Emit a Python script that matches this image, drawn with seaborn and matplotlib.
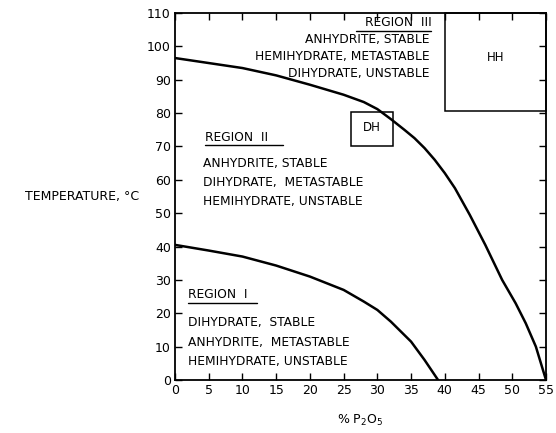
import matplotlib
matplotlib.use("Agg")
import matplotlib.pyplot as plt
import matplotlib.patches as mpatches
import numpy as np
import pandas as pd
import seaborn as sns

# Phase boundary curves of calcium sulfate hydrates in phosphoric acid
upper_p2o5 = [0, 5, 10, 15, 20, 25, 28, 30, 32, 34, 35.5, 37, 38.5, 40, 41.5, 43.7, 46, 48.5, 50.5, 52, 53.5, 55]
upper_temp = [96.5, 95, 93.5, 91.3, 88.5, 85.5, 83.3, 81.2, 78.2, 75, 72.5, 69.5, 66, 62, 57.5, 49.5, 40.5, 30, 23, 17, 10, 0]

lower_p2o5 = [0, 5, 10, 15, 20, 25, 28, 30, 32, 35, 37, 39]
lower_temp = [40.5, 38.8, 37, 34.3, 31, 27, 23.5, 21, 17.5, 11.5, 6, 0]

x_ticks = list(range(0, 56, 5))
y_ticks = list(range(0, 111, 10))

# Boxes: (x0, y0, x1, y1, label)
dh_box = (26.1, 70, 32.3, 80.3, "DH")
hh_box = (40, 80.5, 55, 110, "HH")

region_iii = ["ANHYDRITE, STABLE", "HEMIHYDRATE, METASTABLE", "DIHYDRATE, UNSTABLE"]
region_ii = ["ANHYDRITE, STABLE", "DIHYDRATE,  METASTABLE", "HEMIHYDRATE, UNSTABLE"]
region_i = ["DIHYDRATE,  STABLE", "ANHYDRITE,  METASTABLE", "HEMIHYDRATE, UNSTABLE"]

sns.set_style("ticks")
plt.rcParams["font.family"] = ["DejaVu Sans"]
plt.rcParams["text.color"] = "black"
plt.rcParams["axes.labelcolor"] = "black"

fig = plt.figure(figsize=(5.56, 4.33), dpi=100)
ax = fig.add_axes([0.3147, 0.1224, 0.6673, 0.8476])

upper = pd.DataFrame({"p2o5": upper_p2o5, "temp": upper_temp})
lower = pd.DataFrame({"p2o5": lower_p2o5, "temp": lower_temp})
sns.lineplot(data=upper, x="p2o5", y="temp", color="black", lw=1.8, ax=ax, sort=False)
sns.lineplot(data=lower, x="p2o5", y="temp", color="black", lw=1.8, ax=ax, sort=False)

ax.set_xlim(0, 55)
ax.set_ylim(0, 110)
ax.set_xticks(x_ticks)
ax.set_yticks(y_ticks)
ax.tick_params(direction="in", length=5, width=1.0, top=True, right=True,
               labelsize=9, colors="black", pad=3)
for s in ax.spines.values():
    s.set_linewidth(1.3)
    s.set_color("black")
    s.set_visible(True)

ax.set_xlabel("% P$_2$O$_5$", fontsize=9, labelpad=11)
ax.set_ylabel("TEMPERATURE, \u00b0C", fontsize=9, rotation=0, ha="center", va="center")
ax.yaxis.set_label_coords(-0.25, 0.5)

for (x0, y0, x1, y1, lab) in (dh_box, hh_box):
    ax.add_patch(mpatches.Rectangle((x0, y0), x1 - x0, y1 - y0, fill=False,
                                    ec="black", lw=1.1, clip_on=False))
    ax.text((x0 + x1) / 2, y0 + (y1 - y0) * 0.55, lab,
            ha="center", va="center", fontsize=8.5)

fs = 8.8
# Region III (right-aligned block)
ax.text(38.0, 107, "REGION  III", ha="right", va="center", fontsize=fs)
ax.plot([26.8, 38.0], [104.6, 104.6], color="black", lw=1.0)
for i, line in enumerate(region_iii):
    ax.text(37.8, 102 - 5 * i, line, ha="right", va="center", fontsize=fs)

# Region II
ax.text(4.4, 72.8, "REGION  II", ha="left", va="center", fontsize=fs)
ax.plot([4.4, 16.0], [70.5, 70.5], color="black", lw=1.0)
for i, line in enumerate(region_ii):
    ax.text(4.2, 65 - 5.8 * i, line, ha="left", va="center", fontsize=fs)

# Region I
ax.text(1.9, 25.5, "REGION  I", ha="left", va="center", fontsize=fs)
ax.plot([1.9, 12.2], [23.2, 23.2], color="black", lw=1.0)
for i, line in enumerate(region_i):
    ax.text(1.9, 17.2 - 5.85 * i, line, ha="left", va="center", fontsize=fs)

fig.savefig("out.png", dpi=100)
